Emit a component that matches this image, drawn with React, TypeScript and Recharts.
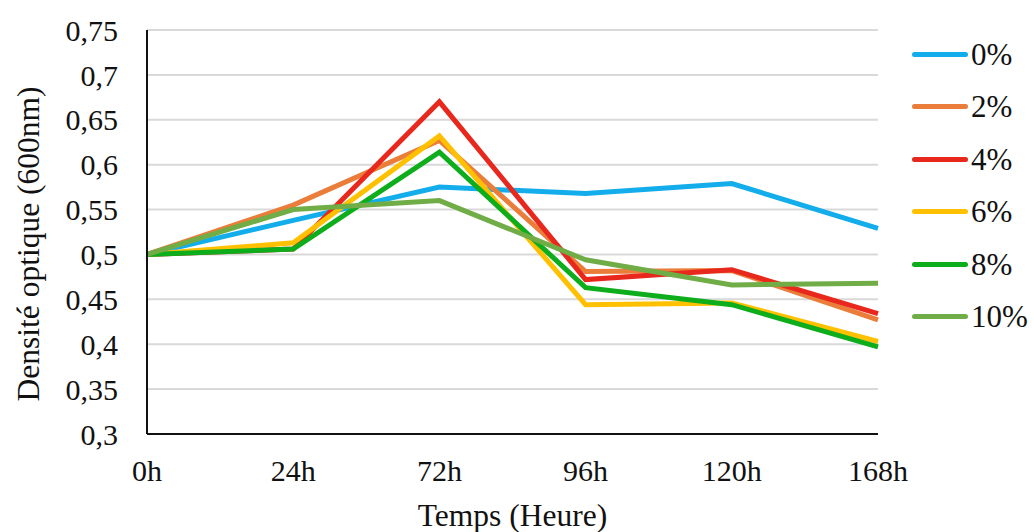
import React from 'react';
import { LineChart, Line, XAxis, YAxis, CartesianGrid, Legend } from 'recharts';

const categories = ['0h', '24h', '72h', '96h', '120h', '168h'];
const s0 = [0.5, 0.538, 0.575, 0.568, 0.579, 0.529];
const s2 = [0.5, 0.555, 0.627, 0.481, 0.482, 0.427];
const s4 = [0.5, 0.506, 0.67, 0.472, 0.483, 0.434];
const s6 = [0.5, 0.513, 0.632, 0.444, 0.446, 0.403];
const s8 = [0.5, 0.506, 0.614, 0.463, 0.444, 0.397];
const s10 = [0.5, 0.55, 0.56, 0.494, 0.466, 0.468];
const seriesNames = ['0%', '2%', '4%', '6%', '8%', '10%'];
const seriesValues = [s0, s2, s4, s6, s8, s10];
const seriesColors = ['#13ADEB', '#EB7D3A', '#E8281C', '#FFC000', '#0DAD1C', '#70AD47'];
const yTicks = [0.3, 0.35, 0.4, 0.45, 0.5, 0.55, 0.6, 0.65, 0.7, 0.75];

const data = categories.map((c, i) => {
  const row: Record<string, string | number> = { cat: c };
  seriesNames.forEach((n, k) => {
    row[n] = seriesValues[k][i];
  });
  return row;
});

const FONT = '"Liberation Serif", "Times New Roman", serif';

const fmt = (v: number) => String(v).replace('.', ',');

const LegendContent = () => (
  <div style={{ fontFamily: FONT }}>
    {seriesNames.map((n, k) => (
      <div key={n} style={{ display: 'flex', alignItems: 'center', height: 52.5 }}>
        <div
          style={{
            width: 56,
            height: 5,
            borderRadius: 3,
            background: seriesColors[k],
            marginRight: 3,
          }}
        />
        <span style={{ fontSize: 31, color: '#111', lineHeight: 1 }}>{n}</span>
      </div>
    ))}
  </div>
);

const YLabel = (props: any) => {
  const vb = props.viewBox || { x: 0, y: 30, width: 147, height: 404 };
  const x = vb.x + 28;
  const y = vb.y + vb.height / 2 + 12;
  return (
    <text
      x={x}
      y={y}
      transform={`rotate(-90 ${x} ${y})`}
      textAnchor="middle"
      dominantBaseline="central"
      fontFamily={FONT}
      fontSize={31.5}
      fill="#111"
    >
      Densité optique (600nm)
    </text>
  );
};

export default function App() {
  return (
    <div style={{ position: 'absolute', left: 0, top: 0, width: 1034, height: 532, background: '#fff' }}>
      <LineChart
        width={1034}
        height={532}
        data={data}
        margin={{ top: 30, right: 156, bottom: 0, left: 0 }}
      >
        <CartesianGrid horizontal={true} vertical={false} stroke="#D9D9D9" strokeWidth={2} />
        <XAxis
          dataKey="cat"
          height={98}
          axisLine={{ stroke: '#111', strokeWidth: 2 }}
          tickLine={false}
          tickSize={0}
          tickMargin={26}
          tick={{ fontFamily: FONT, fontSize: 30, fill: '#111' }}
          interval={0}
          label={{
            value: 'Temps (Heure)',
            position: 'insideBottom',
            offset: 6,
            fontFamily: FONT,
            fontSize: 31.5,
            fill: '#111',
          }}
        />
        <YAxis
          width={147}
          domain={[0.3, 0.75]}
          ticks={yTicks}
          interval={0}
          allowDataOverflow={true}
          axisLine={{ stroke: '#111', strokeWidth: 2 }}
          tickLine={false}
          tickSize={0}
          tickMargin={29}
          tickFormatter={fmt}
          tick={{ fontFamily: FONT, fontSize: 30, fill: '#111' }}
          label={<YLabel />}
        />
        <Legend
          content={<LegendContent />}
          layout="horizontal"
          verticalAlign="middle"
          align="center"
          wrapperStyle={{ position: 'absolute', left: 912, top: 28, width: 122 }}
        />
        {seriesNames.map((n, k) => (
          <Line
            key={n}
            type="linear"
            dataKey={n}
            stroke={seriesColors[k]}
            strokeWidth={5}
            dot={false}
            activeDot={false}
            isAnimationActive={false}
          />
        ))}
      </LineChart>
    </div>
  );
}
